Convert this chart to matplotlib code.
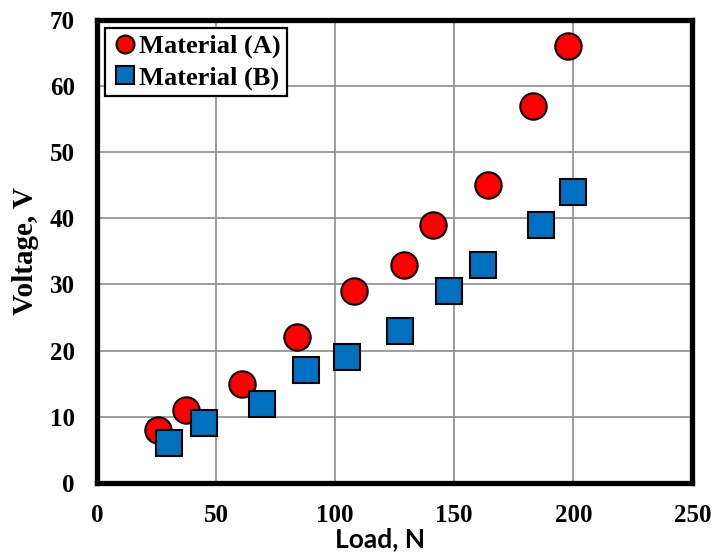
import numpy as np
import matplotlib
matplotlib.use("Agg")
import matplotlib.pyplot as plt

# load (N) vs generated voltage (V)
load_a = [25.6, 37.4, 60.9, 84.0, 108.0, 129.0, 141.0, 164.3, 183.2, 198.0]
volt_a = [8, 11, 15, 22, 29, 33, 39, 45, 57, 66]

load_b = [30.3, 45.0, 69.3, 87.8, 105.0, 127.3, 148.0, 162.2, 186.6, 200.0]
volt_b = [6, 9, 12, 17, 19, 23, 29, 33, 39, 44]

x_ticks = [0, 50, 100, 150, 200, 250]
y_ticks = [0, 10, 20, 30, 40, 50, 60, 70]

serif = "Liberation Serif"

fig = plt.figure(figsize=(7.13, 5.55), dpi=100)
ax = fig.add_axes([0.136, 0.13, 0.835, 0.834])

ax.plot(load_a, volt_a, "o", ms=19, mfc="#ff0000", mec="black", mew=1.5,
        label="Material (A)", zorder=3)
ax.plot(load_b, volt_b, "s", ms=19, mfc="#0070c0", mec="black", mew=1.5,
        label="Material (B)", zorder=3)

ax.set_xlim(0, 250)
ax.set_ylim(0, 70)
ax.set_xticks(x_ticks)
ax.set_yticks(y_ticks)
ax.grid(True, color="#8c8c8c", lw=1.2)
ax.set_axisbelow(True)
ax.tick_params(length=0)
ax.tick_params(axis="x", pad=15)
ax.tick_params(axis="y", pad=16)
for lab in ax.get_xticklabels() + ax.get_yticklabels():
    lab.set_fontfamily(serif)
    lab.set_fontweight("bold")
    lab.set_fontsize(18)

for sp in ax.spines.values():
    sp.set_linewidth(3.8)

ax.set_xlabel("Load, N", fontfamily="Lato", fontweight="bold", fontsize=19)
ax.xaxis.set_label_coords(0.476, -0.095)
ax.set_ylabel("Voltage, V", fontfamily=serif, fontweight="bold", fontsize=21,
              labelpad=8)

leg = ax.legend(loc="upper left", prop={"family": serif, "weight": "bold", "size": 19},
                markerscale=0.68, handletextpad=0.05, handlelength=1.0,
                borderpad=0.25, labelspacing=0.28, borderaxespad=0.3,
                fancybox=False, framealpha=1, edgecolor="black")
leg.get_frame().set_linewidth(1.6)

fig.savefig("out.png", dpi=100)
